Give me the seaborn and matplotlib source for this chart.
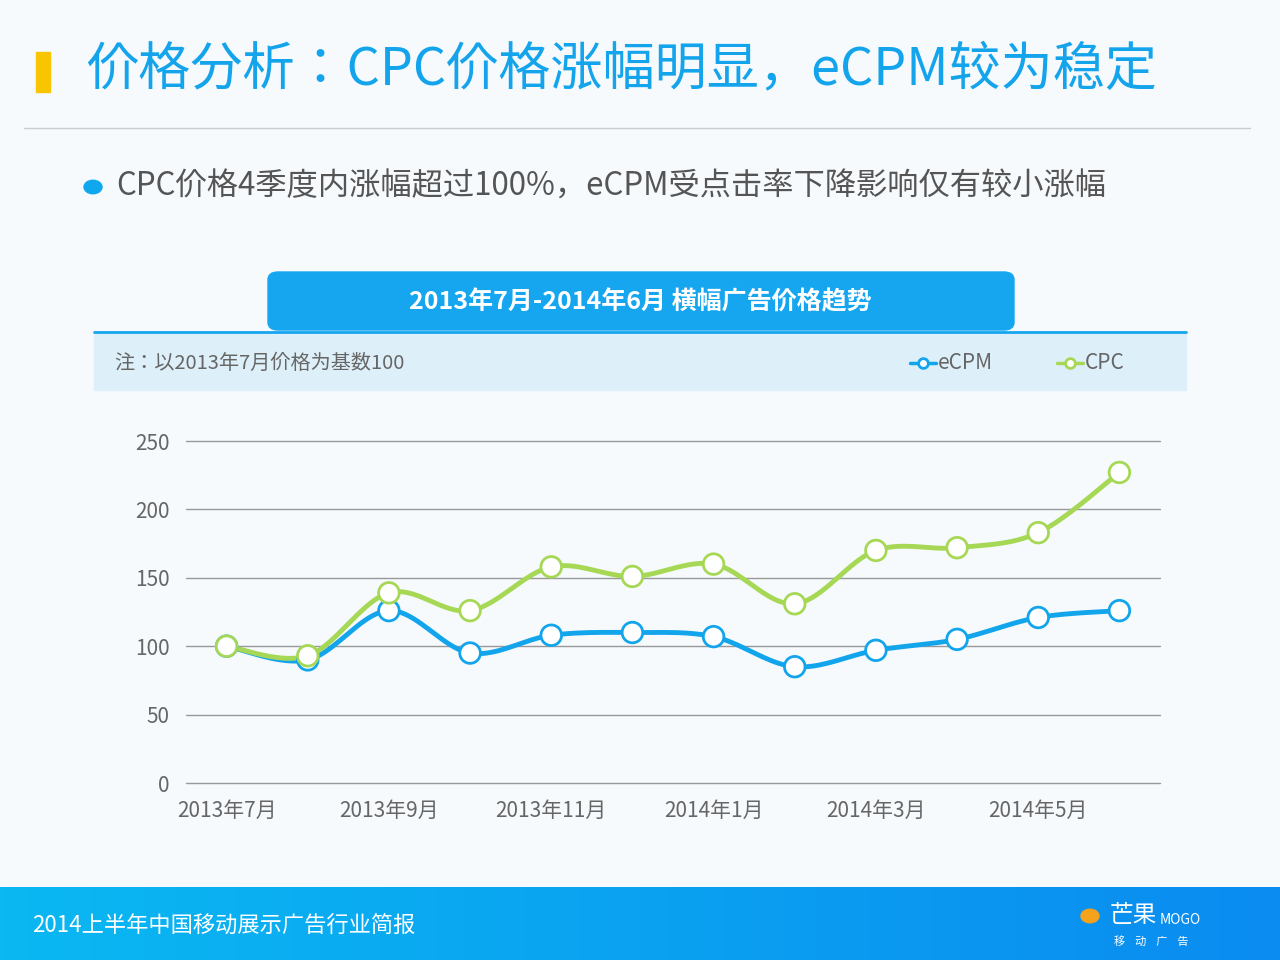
import numpy as np
import matplotlib
matplotlib.use("Agg")
import matplotlib.pyplot as plt
from matplotlib import font_manager as fm
from matplotlib.patches import FancyBboxPatch, Rectangle
from matplotlib.colors import LinearSegmentedColormap
import seaborn as sns
import pandas as pd

names = sorted({f.name for f in fm.fontManager.ttflist})
cjk = [n for n in names if "CJK SC" in n] or [n for n in names if "CJK" in n]
sns.set_theme(style="white", font=cjk[0] if cjk else "DejaVu Sans")
plt.rcParams["font.family"] = cjk[:1] + ["DejaVu Sans"]

months = ["2013年7月", "2013年8月", "2013年9月", "2013年10月", "2013年11月", "2013年12月",
          "2014年1月", "2014年2月", "2014年3月", "2014年4月", "2014年5月", "2014年6月"]
ecpm = [100, 90, 126, 95, 108, 110, 107, 85, 97, 105, 121, 126]
cpc = [100, 93, 139, 126, 158, 151, 160, 131, 170, 172, 183, 227]
yticks = [0, 50, 100, 150, 200, 250]

W, H = 1280, 960
fig = plt.figure(figsize=(12.8, 9.6), dpi=100)
fig.patch.set_facecolor("#F6FAFD")

def fx(x): return x / W
def fy(y): return 1 - y / H

fig.patches.append(Rectangle((fx(36), fy(92)), fx(14), 40 / H, transform=fig.transFigure, color="#F9C400"))
fig.text(fx(86), fy(70), "价格分析：CPC价格涨幅明显，eCPM较为稳定", fontsize=37.5, color="#14A4EC", va="center")
fig.add_artist(plt.Line2D([fx(24), fx(1250)], [fy(128), fy(128)], color="#CCCCCC", lw=1))
fig.patches.append(plt.Circle((fx(93), fy(187)), 9 / W, transform=fig.transFigure, color="#0FA8EE"))
fig.text(fx(116), fy(187), "CPC价格4季度内涨幅超过100%，eCPM受点击率下降影响仅有较小涨幅",
         fontsize=22.5, color="#555555", va="center")

fig.patches.append(FancyBboxPatch((fx(268), fy(330)), fx(746), 58 / H, boxstyle="round,pad=0,rounding_size=0.008",
                                  transform=fig.transFigure, color="#16A6F0"))
fig.add_artist(plt.Line2D([fx(94), fx(1186)], [fy(332), fy(332)], color="#16A6F0", lw=2))
fig.text(fx(640), fy(302), "2013年7月-2014年6月 横幅广告价格趋势", fontsize=18, color="white",
         ha="center", va="center", fontweight="bold")
fig.patches.append(Rectangle((fx(94), fy(390)), fx(1092), 57 / H, transform=fig.transFigure, color="#DDEFF8"))
fig.text(fx(114), fy(363), "注：以2013年7月价格为基数100", fontsize=14.5, color="#666666", va="center")

blue, green = "#13A5EC", "#A6D855"
for xs, col, lab in [(910, blue, "eCPM"), (1057, green, "CPC")]:
    fig.add_artist(plt.Line2D([fx(xs), fx(xs + 26)], [fy(363)] * 2, color=col, lw=2.5))
    fig.add_artist(plt.Line2D([fx(xs + 13)], [fy(363)], marker="o", ms=7, mfc="white", mec=col, mew=2))
    fig.text(fx(xs + 28), fy(363), lab, fontsize=15, color="#666666", va="center")

grad = np.linspace(0, 1, 256).reshape(1, -1)
fax = fig.add_axes([0, 0, 1, 73 / H])
fax.imshow(grad, aspect="auto", cmap=LinearSegmentedColormap.from_list("g", ["#0BB8F2", "#0A8CF0"]))
fax.axis("off")
fig.text(fx(32), fy(925), "2014上半年中国移动展示广告行业简报", fontsize=16, color="white", va="center")
fig.text(fx(1110), fy(915), "芒果", fontsize=17, color="white", va="center")
fig.text(fx(1160), fy(920), "MOGO", fontsize=10, color="white", va="center")
fig.text(fx(1114), fy(941), "移    动    广    告", fontsize=8, color="white", va="center")
fig.patches.append(plt.Circle((fx(1090), fy(916)), 9 / W, transform=fig.transFigure, color="#F7A21B"))

ax = fig.add_axes([fx(186), fy(783), fx(974), 342 / H])
ax.set_facecolor("none")
x = np.arange(len(months))

def smooth(xv, yv, n=20):
    p = np.array(list(zip(xv, yv)), float)
    p = np.vstack([p[0], p, p[-1]])
    out = []
    for i in range(1, len(p) - 2):
        p0, p1, p2, p3 = p[i - 1], p[i], p[i + 1], p[i + 2]
        for t in np.linspace(0, 1, n, endpoint=False):
            out.append(0.5 * (2 * p1 + (-p0 + p2) * t + (2 * p0 - 5 * p1 + 4 * p2 - p3) * t ** 2
                              + (-p0 + 3 * p1 - 3 * p2 + p3) * t ** 3))
    out.append(p[-2])
    return np.array(out)

for vals, col in [(ecpm, blue), (cpc, green)]:
    s = smooth(x, vals)
    ax.plot(s[:, 0], s[:, 1], color=col, lw=3.5, zorder=3)
df = pd.DataFrame({"x": np.concatenate([x, x]), "v": ecpm + cpc,
                   "s": ["eCPM"] * 12 + ["CPC"] * 12})
sns.scatterplot(data=df, x="x", y="v", hue="s", palette={"eCPM": blue, "CPC": green},
                s=220, linewidth=2, ax=ax, zorder=4, legend=False)
for c in ax.collections:
    c.set_facecolor("white")
    c.set_edgecolor([blue] * 12 + [green] * 12)

ax.set_xlim(-0.5, 11.5)
ax.set_ylim(0, 250)
ax.set_yticks(yticks)
ax.set_xticks(x[::2])
ax.set_xticklabels(months[::2])
for v in yticks:
    ax.axhline(v, color="#999999", lw=1, zorder=0, clip_on=False)
for sp in ax.spines.values():
    sp.set_visible(False)
ax.tick_params(length=0, labelsize=15, labelcolor="#666666", pad=12)
ax.set_xlabel(""); ax.set_ylabel("")

fig.savefig("out.png", dpi=100, facecolor=fig.get_facecolor())
